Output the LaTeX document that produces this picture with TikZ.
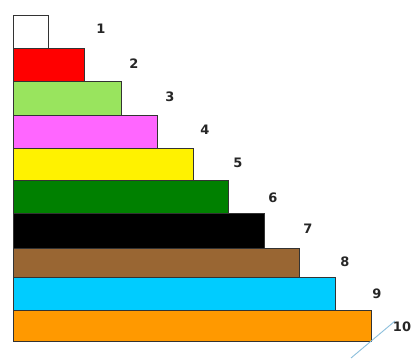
\documentclass[tikz,border=0pt]{standalone}
\usepackage{fontspec}
\setmainfont{DejaVu Sans}
\begin{document}
\begin{tikzpicture}[x=1pt,y=-1pt,
  bar/.style={draw=black!80, line width=0.8pt, anchor=north west, inner sep=0pt, outer sep=0pt},
  num/.style={font=\bfseries\fontsize{13}{15}\selectfont, text=black!85, inner sep=0pt}]
\useasboundingbox (0,0) rectangle (411,358);
\fill[white] (0,0) rectangle (411,358);
\definecolor{c3}{HTML}{99E45E}
\definecolor{c4}{HTML}{FF66FF}
\definecolor{c6}{HTML}{008000}
\definecolor{c8}{HTML}{996633}
\definecolor{c9}{HTML}{00CCFF}
\definecolor{c10}{HTML}{FF9900}
\definecolor{ln}{HTML}{8CBFDC}
\node[bar, fill=white, minimum width=35, minimum height=33] (b1) at (13,15) {};
\node[bar, fill=red, minimum width=71, minimum height=33] (b2) at (13,48) {};
\node[bar, fill=c3, minimum width=108, minimum height=34] (b3) at (13,81) {};
\node[bar, fill=c4, minimum width=144, minimum height=33] (b4) at (13,115) {};
\node[bar, fill=yellow, minimum width=180, minimum height=32] (b5) at (13,148) {};
\node[bar, fill=c6, minimum width=215, minimum height=33] (b6) at (13,180) {};
\node[bar, fill=black, minimum width=251, minimum height=35] (b7) at (13,213) {};
\node[bar, fill=c8, minimum width=286, minimum height=29] (b8) at (13,248) {};
\node[bar, fill=c9, minimum width=322, minimum height=33] (b9) at (13,277) {};
\node[bar, fill=c10, minimum width=358, minimum height=31] (b10) at (13,310) {};
\node[num] (n1) at (101,29) {1};
\node[num] (n2) at (134,64) {2};
\node[num] (n3) at (170,97) {3};
\node[num] (n4) at (205,130) {4};
\node[num] (n5) at (238,163) {5};
\node[num] (n6) at (273,198) {6};
\node[num] (n7) at (308,229) {7};
\node[num] (n8) at (345,262) {8};
\node[num] (n9) at (377,294) {9};
\node[num] (n10) at (402,327) {10};
\coordinate (la) at (395,321);
\coordinate (lb) at (351,358);
\begin{scope}
\clip (0,0) rectangle (411,358);
\draw[ln, line width=0.9pt] (la) -- (lb);
\end{scope}
\end{tikzpicture}
\end{document}
